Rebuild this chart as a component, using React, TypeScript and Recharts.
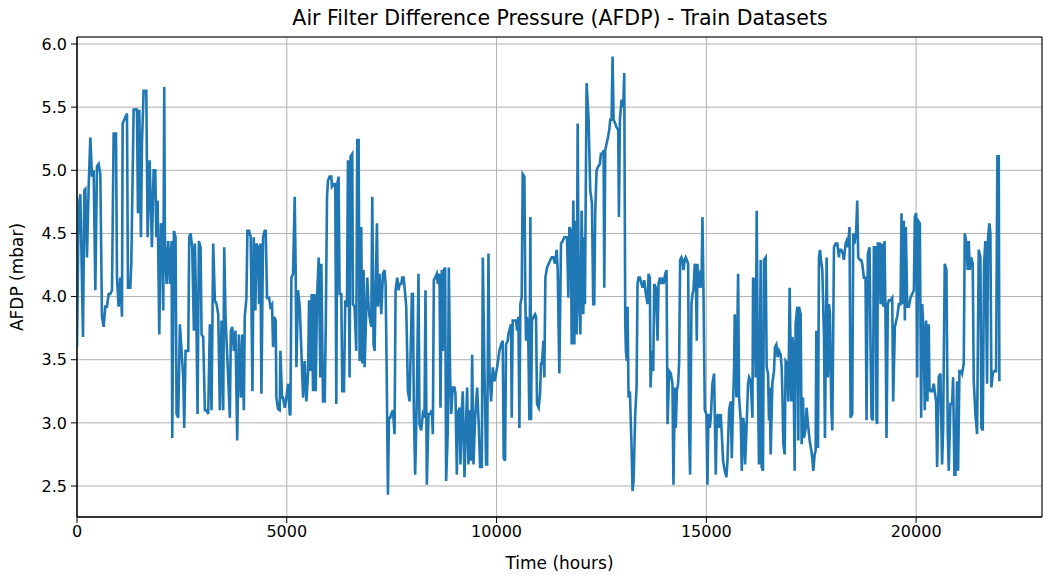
import { CartesianGrid, Line, LineChart, ReferenceArea, XAxis, YAxis } from "recharts";

// readings, hours since start
const hours = [
  0, 40, 80, 143, 175, 198, 238, 278, 318, 357, 397, 437, 476, 516, 556, 595, 635, 675, 714, 754, 794, 834, 873, 929, 953, 992,
  1032, 1072, 1088, 1151, 1191, 1215, 1270, 1294, 1350, 1429, 1453, 1485, 1524, 1548, 1588, 1651, 1683, 1731, 1786, 1826, 1866, 1890, 1921, 1961,
  2000, 2032, 2056, 2079, 2095, 2135, 2175, 2214, 2254, 2270, 2310, 2349, 2373, 2413, 2452, 2492, 2532, 2556, 2587, 2651, 2675, 2707, 2746, 2786,
  2810, 2849, 2873, 2905, 2945, 2969, 3008, 3048, 3088, 3127, 3167, 3207, 3246, 3286, 3326, 3366, 3405, 3445, 3485, 3509, 3540, 3564, 3604, 3643,
  3667, 3699, 3739, 3778, 3818, 3858, 3906, 3937, 3977,
  3998, 4038, 4062, 4101, 4141, 4181, 4212, 4252, 4276, 4316, 4340, 4371, 4395, 4435, 4474, 4498, 4530, 4578, 4609, 4649, 4673, 4697, 4736, 4752,
  4792, 4832, 4848, 4887, 4911, 4951, 4991, 5030, 5070, 5086, 5110, 5149, 5189, 5213, 5229, 5268, 5308, 5348, 5388, 5427, 5467, 5507, 5531, 5562,
  5594, 5626, 5657, 5689, 5721, 5761, 5800, 5824, 5864, 5904, 5928, 5959, 5983,
  6020, 6061, 6077, 6124, 6156, 6180, 6204, 6235, 6259, 6299, 6323, 6363, 6394, 6434, 6458, 6497, 6521, 6561, 6577, 6617, 6656, 6680, 6712, 6736,
  6775, 6799, 6831, 6855, 6894, 6918, 6950, 6974, 7014, 7037, 7069, 7093, 7117, 7149, 7172, 7212, 7252, 7292, 7331, 7355, 7379, 7411, 7434, 7466,
  7490, 7530, 7569, 7593, 7633, 7665, 7689, 7728, 7752, 7784, 7808, 7847, 7887, 7927, 7982, 8006, 8030,
  8060, 8100, 8139, 8163, 8203, 8243, 8282, 8306, 8338, 8378, 8417, 8457, 8481, 8505, 8536, 8576, 8600, 8640, 8663, 8695, 8719, 8743, 8775, 8798,
  8838, 8862, 8894, 8918, 8957, 8997, 9021, 9053, 9076, 9116, 9140, 9172, 9195, 9235, 9275, 9299, 9330, 9354, 9394, 9418, 9450, 9489, 9537, 9569,
  9608, 9648, 9672, 9712, 9751, 9775, 9807, 9831, 9870, 9910, 9950,
  9988, 10027, 10067, 10107, 10147, 10170, 10202, 10226, 10266, 10281, 10305, 10345, 10361, 10385, 10424, 10464, 10488, 10520, 10544, 10567,
  10599, 10623, 10663, 10686, 10702, 10726, 10758, 10782, 10806, 10821, 10845, 10885, 10917, 10941, 10964, 11004, 11036, 11060, 11083, 11115,
  11139, 11163, 11203, 11242, 11282, 11314, 11353, 11393, 11433, 11457, 11496, 11536, 11576, 11615, 11655, 11679, 11711, 11735, 11774, 11790,
  11830, 11854, 11877, 11909, 11933, 11957, 11997, 12028, 12068,
  12085, 12106, 12146, 12193, 12233, 12273, 12304, 12328, 12352, 12384, 12424, 12463, 12487, 12527, 12551, 12567, 12590, 12622, 12654, 12686,
  12709, 12741, 12765, 12789, 12829, 12860, 12900, 12916, 12940, 12979, 13019, 13043, 13067, 13083, 13106, 13122, 13146, 13178, 13218, 13241,
  13265, 13305, 13337, 13360, 13384, 13416, 13456, 13480, 13519, 13559, 13599, 13623, 13654, 13670, 13702, 13734, 13758, 13797, 13837, 13861,
  13893, 13916, 13956, 13980, 14020, 14051, 14075,
  14113, 14153, 14192, 14216, 14248, 14272, 14296, 14327, 14351, 14375, 14407, 14431, 14454, 14486, 14510, 14534, 14566, 14589, 14613, 14645,
  14669, 14693, 14724, 14748, 14772, 14788, 14812, 14844, 14867, 14883, 14907, 14931, 14963, 15002, 15026, 15050, 15082, 15106, 15145, 15185,
  15225, 15249, 15280, 15304, 15344, 15368, 15399, 15439, 15479, 15503, 15542, 15582, 15606, 15637, 15661, 15677, 15717, 15757, 15780, 15820,
  15844, 15876, 15899, 15923, 15955, 15995, 16019, 16058, 16098, 16114,
  16136, 16176, 16200, 16231, 16255, 16295, 16319, 16350, 16374, 16414, 16438, 16470, 16493, 16509, 16533, 16573, 16612, 16636, 16668, 16700,
  16732, 16771, 16795, 16811, 16835, 16867, 16890, 16930, 16954, 16986, 17025, 17049, 17073, 17105, 17128, 17168, 17192, 17208, 17248, 17271,
  17303, 17327, 17367, 17390, 17422, 17462, 17502, 17525, 17549, 17581, 17605, 17621, 17661, 17684, 17708, 17732, 17764, 17804, 17827, 17867,
  17899, 17923, 17946, 17978, 18002, 18042, 18081, 18121, 18161,
  18175, 18215, 18254, 18278, 18318, 18342, 18373, 18413, 18437, 18477, 18501, 18532, 18572, 18596, 18620, 18659, 18691, 18715, 18755, 18794,
  18818, 18850, 18890, 18913, 18937, 18969, 18993, 19033, 19056, 19072, 19088, 19128, 19152, 19191, 19215, 19247, 19271, 19294, 19326, 19350,
  19390, 19430, 19453, 19493, 19525, 19549, 19588, 19628, 19652, 19684, 19707, 19731, 19755, 19787, 19827, 19866, 19906, 19946, 19969, 20001,
  20025, 20049, 20088, 20120, 20144,
  20182, 20206, 20238, 20269, 20301, 20317, 20341, 20381, 20420, 20444, 20476, 20500, 20539, 20579, 20619, 20643, 20682, 20722, 20754, 20778,
  20817, 20857, 20881, 20913, 20936, 20976, 21000, 21032, 21071, 21095, 21135, 21159, 21190, 21230, 21254, 21278, 21310, 21349, 21373, 21413,
  21453, 21492, 21532, 21556, 21588, 21619, 21651, 21691, 21715, 21746, 21770, 21794, 21826, 21865, 21905, 21937, 21969, 21984,
];

// AFDP in mbar, same order as hours
const afdp = [
  3.60, 4.71, 4.81, 3.68, 4.84, 4.85, 4.31, 4.87, 5.26, 4.95, 5.00, 4.05, 5.03, 5.05, 4.97, 3.84, 3.76, 3.92, 3.92, 4.02, 4.02, 4.05, 5.29, 5.29, 4.15, 3.92,
  4.15, 3.84, 5.37, 5.42, 5.45, 4.07, 4.07, 4.26, 5.48, 5.48, 4.66, 5.48, 4.47, 5.21, 5.63, 5.63, 4.47, 5.08, 4.39, 5.00, 5.00, 4.47, 4.76, 3.70,
  4.58, 4.55, 3.89, 5.66, 4.47, 4.10, 4.44, 4.10, 4.44, 2.88, 4.52, 4.47, 3.07, 3.04, 3.78, 3.57, 3.36, 2.96, 3.57, 3.57, 4.47, 4.50, 4.39, 3.73,
  4.42, 3.73, 3.07, 4.44, 4.39, 3.70, 3.68, 3.10, 3.10, 3.07, 3.78, 3.10, 4.42, 3.97, 3.94, 3.86, 3.10, 3.81, 3.10, 4.39, 3.84, 3.65, 3.36, 3.04,
  3.73, 3.76, 3.57, 3.73, 2.86, 3.70, 3.20, 3.70, 3.10,
  3.84, 3.99, 4.52, 4.52, 4.47, 3.25, 4.47, 3.89, 4.42, 4.39, 3.94, 4.42, 3.23, 4.47, 4.52, 4.52, 3.99, 3.99, 3.92, 3.94, 3.60, 3.84, 3.81, 3.20,
  3.11, 3.10, 3.57, 3.20, 3.20, 3.12, 3.20, 3.31, 3.07, 3.06, 4.15, 4.18, 4.79, 4.18, 3.44, 4.05, 3.92, 3.57, 3.20, 3.49, 3.17, 3.39, 3.97, 3.41,
  4.02, 3.25, 4.02, 3.25, 3.99, 4.31, 3.36, 4.26, 3.17, 3.17, 3.73, 4.79, 4.92,
  4.95, 4.95, 4.87, 4.89, 4.89, 3.15, 4.89, 4.95, 4.02, 4.02, 3.25, 3.25, 3.97, 3.92, 5.08, 3.36, 5.11, 5.13, 3.94, 3.92, 3.57, 5.24, 5.24, 3.49,
  4.55, 3.47, 4.21, 3.44, 3.89, 4.15, 3.92, 3.84, 3.76, 4.79, 3.62, 3.57, 4.05, 4.58, 3.92, 4.18, 3.86, 4.18, 4.21, 4.10, 3.47, 2.43, 3.04, 3.04,
  3.07, 3.10, 2.91, 4.05, 4.15, 4.05, 4.10, 4.10, 4.15, 4.15, 4.07, 3.92, 3.25, 3.17, 4.02, 4.02, 3.07,
  2.59, 3.20, 4.18, 2.99, 2.94, 3.07, 3.04, 4.05, 2.51, 3.07, 3.07, 3.10, 2.91, 4.13, 4.15, 4.18, 4.10, 4.18, 3.12, 4.21, 3.57, 4.21, 4.23, 2.54,
  2.94, 4.23, 3.36, 3.07, 3.28, 3.28, 3.23, 2.59, 3.07, 3.12, 2.67, 3.10, 3.25, 2.57, 3.02, 3.28, 2.67, 3.10, 2.70, 3.54, 2.67, 3.04, 3.28, 3.04,
  2.65, 2.65, 4.31, 3.39, 2.67, 2.67, 4.34, 3.41, 3.17, 3.44, 3.33,
  3.39, 3.47, 3.57, 3.62, 3.65, 2.72, 2.70, 3.62, 3.65, 3.70, 3.73, 3.78, 3.04, 3.81, 3.81, 3.81, 3.73, 3.84, 2.96, 3.94,
  3.99, 4.97, 4.95, 3.99, 3.65, 3.84, 3.62, 3.02, 4.63, 3.02, 3.81, 3.84, 3.86, 3.84, 3.15, 3.12, 3.23, 3.47, 3.47, 3.65,
  3.36, 4.15, 4.23, 4.26, 4.29, 4.31, 4.31, 4.26, 4.37, 4.21, 3.39, 4.42, 4.44, 4.47, 4.47, 4.47, 3.99, 4.55, 4.52, 3.62,
  4.76, 3.62, 4.60, 3.70, 5.37, 4.07, 3.70, 4.68, 3.86,
  4.47, 3.94, 5.69, 5.40, 4.84, 4.74, 3.94, 3.94, 4.68, 5.00, 5.03, 5.05, 5.13, 5.13, 5.16, 4.07, 5.16, 5.21, 5.26, 5.32,
  5.40, 5.40, 5.90, 5.40, 5.37, 5.34, 5.32, 4.63, 5.40, 5.56, 5.50, 5.77, 3.78, 3.57, 3.49, 3.92, 3.20, 3.25, 2.80, 2.46,
  2.54, 3.07, 3.28, 4.10, 4.15, 4.15, 4.10, 4.07, 4.13, 4.02, 3.94, 4.18, 4.15, 3.28, 3.57, 3.41, 4.10, 4.07, 3.65, 4.10,
  4.15, 4.10, 4.15, 4.10, 4.18, 4.21, 2.99,
  3.41, 3.39, 3.31, 2.51, 3.28, 2.96, 3.25, 3.31, 3.47, 4.29, 4.31, 4.29, 4.21, 4.29, 4.31, 4.29, 4.26, 2.94, 2.59, 3.94,
  4.02, 4.05, 4.26, 4.21, 3.65, 4.26, 4.10, 4.07, 4.21, 4.07, 4.63, 4.07, 3.10, 3.07, 2.51, 3.07, 2.96, 3.04, 3.31, 3.39,
  2.59, 3.04, 3.07, 2.96, 3.07, 2.91, 2.70, 2.62, 2.57, 2.70, 3.10, 3.17, 2.72, 3.15, 3.44, 3.86, 3.20, 4.18, 3.20, 3.02,
  2.62, 3.04, 2.99, 2.67, 2.94, 3.31, 3.36, 3.33, 3.04, 4.15,
  4.13, 3.36, 4.68, 3.28, 2.67, 4.29, 2.65, 2.62, 4.29, 4.31, 3.44, 3.39, 3.02, 3.28, 2.75, 3.31, 3.41, 3.60, 3.62, 3.52,
  3.57, 3.54, 3.44, 3.25, 2.83, 2.75, 3.49, 3.47, 3.17, 4.07, 3.17, 3.68, 3.60, 2.62, 3.78, 3.92, 2.86, 3.92, 3.86, 2.83,
  3.20, 2.88, 2.96, 3.12, 2.99, 2.86, 2.78, 2.72, 2.62, 2.75, 2.78, 3.73, 2.80, 4.31, 4.37, 4.29, 4.21, 3.68, 2.88, 4.31,
  3.36, 3.94, 3.86, 3.12, 2.94, 4.39, 4.42, 4.42, 4.31,
  4.37, 4.37, 4.34, 4.29, 4.42, 4.44, 4.39, 4.55, 3.04, 3.07, 4.50, 4.42, 4.52, 4.76, 4.31, 4.29, 4.29, 4.26, 4.15, 4.15,
  3.02, 4.34, 4.39, 3.62, 3.04, 3.02, 4.39, 4.39, 3.02, 2.99, 4.42, 4.42, 3.94, 4.42, 3.92, 4.44, 3.81, 2.88, 3.94, 3.97,
  3.97, 3.99, 3.17, 3.76, 3.81, 3.84, 3.94, 3.94, 4.66, 3.94, 4.60, 3.81, 4.55, 3.92, 3.92, 3.99, 4.02, 4.05, 4.63, 4.66,
  3.36, 4.60, 4.58, 3.04, 3.94,
  3.70, 3.10, 3.81, 3.17, 3.78, 3.28, 3.25, 3.25, 3.31, 3.25, 3.17, 2.65, 3.36, 3.39, 2.67, 2.94, 4.26, 4.21, 2.91, 2.62,
  3.15, 3.15, 3.36, 2.59, 2.59, 3.33, 2.62, 3.41, 3.41, 3.39, 3.47, 4.50, 4.44, 4.21, 4.44, 4.21, 4.31, 4.26, 3.33, 3.07,
  2.91, 4.37, 4.31, 2.96, 2.94, 4.26, 4.44, 3.31, 4.47, 4.58, 4.50, 3.28, 3.39, 3.41, 3.41, 5.11, 5.11, 3.33,
];

const xTicks = [0, 5000, 10000, 15000, 20000];
const yTicks = [2.5, 3.0, 3.5, 4.0, 4.5, 5.0, 5.5, 6.0];

const X_MAX = 23000;
const Y_MIN = 2.2545;
const Y_MAX = 6.0554;

const data = hours.map((t, i) => ({ t, afdp: afdp[i] }));

const font = "'DejaVu Sans', sans-serif";
const tickStyle = { fontSize: 16, fill: "#000", fontFamily: font };
const labelStyle = { fontSize: 17, fill: "#000", fontFamily: font };

export default function App() {
  return (
    <div style={{ position: "absolute", left: 0, top: 0, width: 1043, height: 575, background: "#fff", fontFamily: font }}>
      <div
        style={{
          position: "absolute",
          top: 6,
          left: 77,
          width: 966,
          textAlign: "center",
          fontSize: 20.5,
          lineHeight: "24px",
          color: "#000",
        }}
      >
        Air Filter Difference Pressure (AFDP) - Train Datasets
      </div>
      <LineChart width={1043} height={575} data={data} margin={{ top: 37, right: 1, bottom: 0, left: 0 }}>
        <CartesianGrid stroke="#b0b0b0" strokeWidth={1} />
        <XAxis
          dataKey="t"
          type="number"
          domain={[0, X_MAX]}
          ticks={xTicks}
          allowDataOverflow
          height={58}
          tickSize={6}
          tickMargin={3}
          stroke="#000"
          tick={tickStyle}
          label={{ value: "Time (hours)", position: "insideBottom", offset: 6, style: labelStyle }}
        />
        <YAxis
          type="number"
          domain={[Y_MIN, Y_MAX]}
          ticks={yTicks}
          allowDataOverflow
          width={77}
          tickSize={6}
          tickMargin={4}
          stroke="#000"
          tick={tickStyle}
          tickFormatter={(v: number) => v.toFixed(1)}
          label={{
            value: "AFDP (mbar)",
            angle: -90,
            position: "insideLeft",
            offset: 17,
            style: { ...labelStyle, textAnchor: "middle" },
          }}
        />
        <Line
          type="linear"
          dataKey="afdp"
          stroke="#1f77b4"
          strokeWidth={2.6}
          dot={false}
          isAnimationActive={false}
        />
        <ReferenceArea x1={0} x2={X_MAX} y1={Y_MIN} y2={Y_MAX} fill="none" stroke="#000" strokeWidth={1} />
      </LineChart>
    </div>
  );
}
